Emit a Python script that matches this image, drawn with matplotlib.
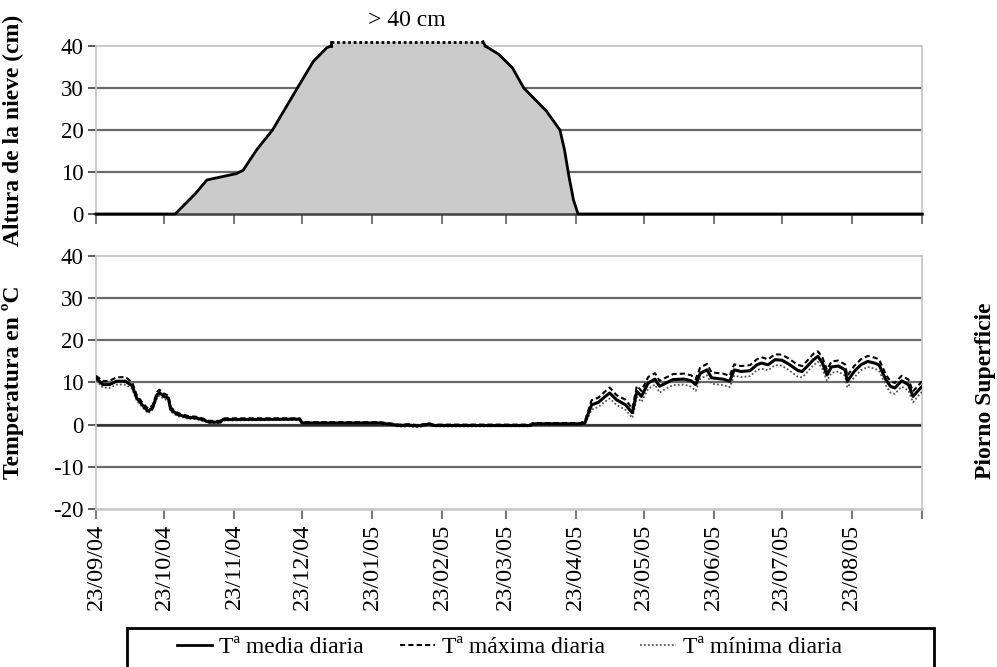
import datetime as dt

import matplotlib
matplotlib.use("Agg")
import matplotlib.pyplot as plt
import matplotlib.dates as mdates
from matplotlib.lines import Line2D
from matplotlib.patches import Rectangle

plt.rcParams["font.family"] = ["Liberation Serif", "DejaVu Serif"]
plt.rcParams["axes.unicode_minus"] = False

START = dt.date(2004, 9, 23)

# Snow depth (days since 23/09/04, cm); values above 40 cm are off the gauge
snow_day = [0, 35.7, 44.5, 49, 62, 65, 71, 78, 89, 96, 102, 104,
            104.5, 171.8,
            172.3, 178.8, 184.6, 189.8, 199.4, 205.3, 207.5, 209, 211, 213.3, 365]
snow_cm = [0, 0, 4.9, 8.1, 9.6, 10.4, 15.3, 20, 30, 36.3, 39.6, 40,
           41, 41,
           40, 38, 34.8, 30, 24.5, 20, 15.3, 8.9, 3.3, 0, 0]

# Daily air temperature at the surface (days since 23/09/04, deg C)
temp_day = [0, 3, 6, 9, 13.5, 16, 18, 21, 23, 25, 27, 28, 30, 32, 33.5,
            36.5, 41.5, 44.5, 47.5, 50.5, 55, 56, 90, 91, 125, 130, 134,
            138, 142, 146, 147.5, 149, 192, 193, 214,
            216, 219, 222.7, 225.7, 227.9, 230.8, 234.5, 237.2, 239.6, 241.1,
            244, 247, 249.2, 252.2, 255.9, 260.3, 263.2, 265.4, 267.6, 270.6,
            272.8, 277.2, 280.2, 282.4, 285.3, 289, 292, 294.9, 297.8, 300.8,
            303.7, 306.7, 310.3, 312.6, 314.8, 317, 319.2, 321.4, 323.6, 325.8,
            328, 331, 332.9, 335.4, 338.3, 341.3, 344.2, 346.4, 349.4, 351.6,
            353.8, 356.7, 359, 361.2, 363.4, 365]
t_mean = [11.1, 9.5, 9.5, 10.3, 10.3, 9.2, 6.3, 4.3, 3.2, 4.0, 7.1, 7.6, 6.7, 6.3, 3.6,
          2.4, 1.7, 1.6, 1.2, 0.6, 0.6, 1.2, 1.3, 0.4, 0.4, 0.1, -0.2,
          -0.1, -0.3, 0.0, 0.2, -0.2, -0.2, 0.2, 0.2,
          0.4, 4.7, 5.3, 6.7, 7.5, 5.9, 4.7, 2.8, 7.9, 6.7,
          9.9, 10.8, 9.1, 9.9, 10.7, 10.8, 10.4, 9.5, 12.2, 13.0,
          11.1, 10.8, 10.3, 13.0, 12.6, 12.8, 14.2, 14.6, 14.2, 15.4,
          15.3, 14.4, 12.9, 12.6, 13.7, 15.4, 16.2, 14.6, 11.8, 13.7,
          13.9, 13.0, 10.3, 12.6, 14.2, 15.0, 14.6, 14.2, 10.7, 9.1,
          8.7, 10.4, 9.5, 6.7, 7.9, 9.1]
t_max = [11.6, 10.3, 10.4, 11.2, 11.3, 10.0, 7.0, 4.9, 3.8, 4.6, 7.8, 8.3, 7.4, 6.9, 4.1,
         2.8, 2.0, 1.9, 1.5, 0.9, 0.9, 1.5, 1.5, 0.6, 0.6, 0.3, 0.0,
         0.1, -0.1, 0.2, 0.4, 0.0, 0.0, 0.4, 0.4,
         0.8, 5.8, 6.4, 7.9, 8.8, 7.0, 5.9, 3.8, 9.2, 8.0,
         11.3, 12.2, 10.4, 11.2, 12.0, 12.1, 11.7, 10.8, 13.6, 14.4,
         12.4, 12.1, 11.6, 14.3, 13.9, 14.1, 15.5, 16.0, 15.5, 16.7,
         16.6, 15.7, 14.2, 13.9, 15.0, 16.8, 17.4, 15.9, 13.0, 15.0,
         15.2, 14.3, 11.6, 13.9, 15.5, 16.3, 15.9, 15.5, 11.9, 10.3,
         9.9, 11.6, 10.7, 7.9, 9.1, 10.3]
t_min = [10.5, 8.8, 8.7, 9.5, 9.5, 8.5, 5.7, 3.8, 2.7, 3.5, 6.4, 6.9, 6.1, 5.7, 3.1,
         2.0, 1.4, 1.3, 0.9, 0.4, 0.4, 1.0, 1.1, 0.2, 0.2, -0.1, -0.5,
         -0.4, -0.6, -0.3, 0.0, -0.4, -0.4, 0.0, 0.0,
         0.1, 3.6, 4.2, 5.5, 6.2, 4.7, 3.5, 1.6, 6.5, 5.4,
         8.5, 9.5, 7.6, 8.6, 9.4, 9.5, 9.0, 8.0, 10.9, 11.7,
         9.7, 9.4, 8.9, 11.6, 11.3, 11.5, 12.9, 13.3, 12.9, 14.1,
         14.0, 13.0, 11.4, 11.2, 12.3, 14.1, 14.9, 13.2, 10.4, 12.3,
         12.6, 11.6, 8.8, 11.2, 12.9, 13.7, 13.3, 12.8, 9.3, 7.6,
         7.3, 9.0, 8.1, 5.3, 6.6, 7.8]

month_ticks = [dt.date(2004 + (8 + i) // 12, (8 + i) % 12 + 1, 23) for i in range(13)]
month_labels = [d.strftime("%d/%m/%y") for d in month_ticks[:-1]] + [""]


def to_dates(days):
    return [START + dt.timedelta(days=d) for d in days]


GRID = "#6a6a6a"
FRAME = "#c4c4c4"

fig = plt.figure(figsize=(9.97, 6.67), dpi=100)
ax_snow = fig.add_axes([0.0963, 0.6792, 0.8285, 0.2519])
ax_temp = fig.add_axes([0.0963, 0.2369, 0.8285, 0.3793])


def style_axis(ax, ymin, ymax):
    ax.set_xlim(mdates.date2num(month_ticks[0]), mdates.date2num(month_ticks[-1]))
    ax.set_ylim(ymin, ymax)
    ax.set_yticks(range(ymin, ymax + 1, 10))
    for y in range(ymin + 10, ymax, 10):
        ax.axhline(y, color=GRID, lw=1.6, zorder=1)
    for side in ("top", "right", "left"):
        ax.spines[side].set_color(FRAME)
        ax.spines[side].set_linewidth(1.2)
    ax.spines["bottom"].set_color("#404040")
    ax.spines["bottom"].set_linewidth(1.8)
    ax.set_xticks(mdates.date2num(month_ticks))
    ax.tick_params(axis="y", length=6, width=1.2, color="#404040", labelsize=16.5, pad=3)
    ax.tick_params(axis="x", length=7, width=1.2, color="#606060", labelsize=17.5)


# snow panel
style_axis(ax_snow, 0, 40)
sd = mdates.date2num(to_dates(snow_day))
ax_snow.fill_between(sd, 0, snow_cm, color="#cbcbcb", lw=0, zorder=2, clip_on=False)
over = [i for i, v in enumerate(snow_cm) if v > 40]
i0, i1 = over[0], over[-1]
solid = dict(color="black", lw=2, zorder=3, clip_on=False)
ax_snow.plot(sd[:i0], snow_cm[:i0], **solid)
ax_snow.plot(sd[i1 + 1:], snow_cm[i1 + 1:], **solid)
ax_snow.plot([sd[i0 - 1], sd[i0]], [snow_cm[i0 - 1], snow_cm[i0]], **solid)
ax_snow.plot([sd[i1], sd[i1 + 1]], [snow_cm[i1], snow_cm[i1 + 1]], **solid)
ax_snow.plot(sd[i0:i1 + 1], snow_cm[i0:i1 + 1], color="black", lw=2, ls=(0, (1, 1)),
             zorder=3, clip_on=False)
ax_snow.text((sd[i0] + sd[i1]) / 2, 43.5, "> 40 cm", ha="center", va="bottom", fontsize=17)
ax_snow.set_xticklabels([])
ax_snow.set_ylabel("Altura de la nieve (cm)", fontsize=17, fontweight="bold")

# temperature panel
style_axis(ax_temp, -20, 40)
ax_temp.axhline(0, color="#303030", lw=1.8, zorder=1)
ax_temp.spines["bottom"].set_color(FRAME)
td = mdates.date2num(to_dates(temp_day))
ax_temp.plot(td, t_min, color="#555555", lw=1.3, ls=(0, (1, 1.2)), zorder=3)
ax_temp.plot(td, t_max, color="black", lw=1.5, ls=(0, (2.5, 1.5)), zorder=3)
ax_temp.plot(td, t_mean, color="black", lw=2.2, zorder=4)
ax_temp.set_xticklabels(month_labels, rotation=90, va="top")
ax_temp.set_ylabel("Temperatura en ºC", fontsize=17, fontweight="bold")
ax_snow.yaxis.set_label_coords(-0.087, 0.5)
ax_temp.yaxis.set_label_coords(-0.087, 0.5)

fig.text(0.988, 0.414, "Piorno Superficie", rotation=90, ha="center", va="center",
         fontsize=17, fontweight="bold")

# legend box along the bottom edge
fig.patches.append(Rectangle((127 / 997, -0.02), 807 / 997, 0.078, transform=fig.transFigure,
                             fill=False, edgecolor="black", lw=2))
handles = [
    Line2D([], [], color="black", lw=2),
    Line2D([], [], color="black", lw=1.5, ls=(0, (2.5, 1.5))),
    Line2D([], [], color="#555555", lw=1.3, ls=(0, (1, 1.2))),
]
fig.legend(handles, ["Tª media diaria", "Tª máxima diaria", "Tª mínima diaria"],
           loc="center", bbox_to_anchor=(0.511, 0.029), ncol=3, frameon=False,
           fontsize=17, handlelength=1.5, handletextpad=0.3, columnspacing=1.5)

fig.savefig("out.png", dpi=100)
